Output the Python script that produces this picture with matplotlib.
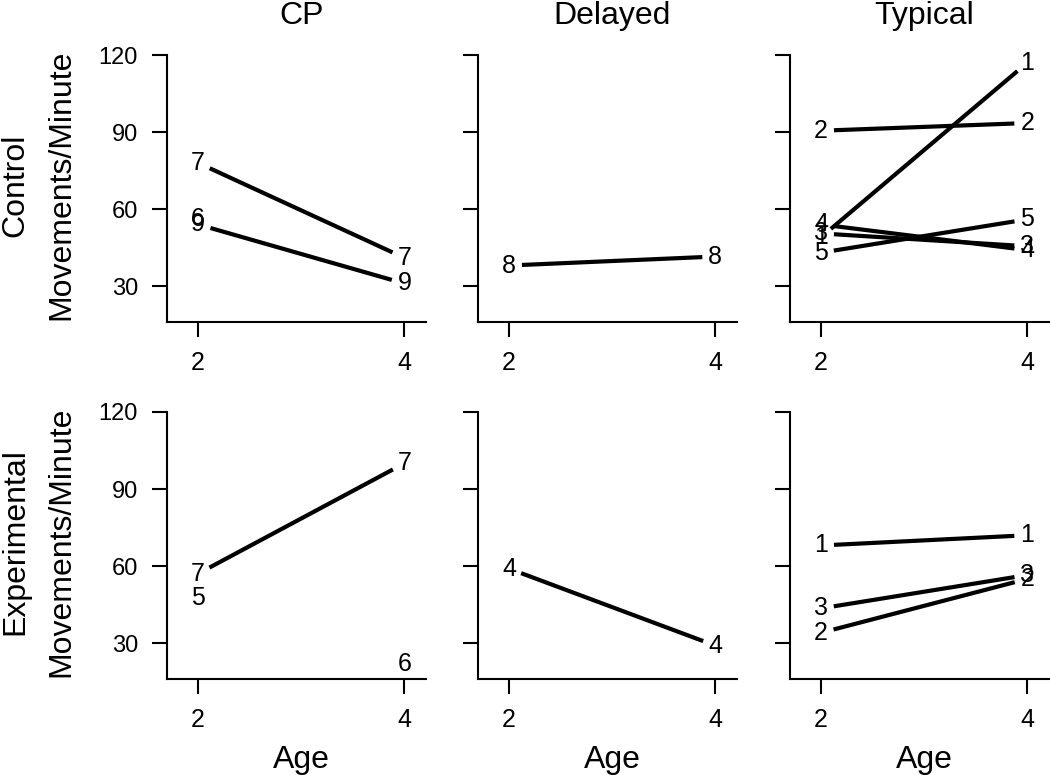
import matplotlib.pyplot as plt
import numpy as np

plt.rcParams['font.family'] = ['Liberation Sans', 'DejaVu Sans']

ages = [2, 4]
columns = ['CP', 'Delayed', 'Typical']
rows = ['Control', 'Experimental']
y_ticks = [30, 60, 90, 120]

# control group: child id, movements/minute at age 2 and at age 4 (None = missing)
cp_ctrl_ids = ['7', '6', '9']
cp_ctrl_age2 = [78, 56, 54]
cp_ctrl_age4 = [41, None, 31]

del_ctrl_ids = ['8']
del_ctrl_age2 = [38]
del_ctrl_age4 = [41.5]

typ_ctrl_ids = ['1', '2', '3', '4', '5']
typ_ctrl_age2 = [49, 90.5, 50.5, 54, 43]
typ_ctrl_age4 = [117, 93.5, 45.5, 44, 56]

# experimental group
cp_exp_ids = ['7', '5', '6']
cp_exp_age2 = [57, 47.5, None]
cp_exp_age4 = [100, None, 22]

del_exp_ids = ['4']
del_exp_age2 = [59]
del_exp_age4 = [29]

typ_exp_ids = ['1', '3', '2']
typ_exp_age2 = [68, 43.5, 34]
typ_exp_age4 = [72, 56.5, 55]

panels = [
    [(cp_ctrl_ids, cp_ctrl_age2, cp_ctrl_age4),
     (del_ctrl_ids, del_ctrl_age2, del_ctrl_age4),
     (typ_ctrl_ids, typ_ctrl_age2, typ_ctrl_age4)],
    [(cp_exp_ids, cp_exp_age2, cp_exp_age4),
     (del_exp_ids, del_exp_age2, del_exp_age4),
     (typ_exp_ids, typ_exp_age2, typ_exp_age4)],
]

W, H = 1050, 775
fig = plt.figure(figsize=(W / 100, H / 100), dpi=100)

lefts = [167, 478, 790]
tops = [55, 412]
pw, ph = 259, 267
gap = 13  # pixels left blank round each label, like R type="b"


def draw_panel(ax, ids, v2, v4):
    for lab, a, b in zip(ids, v2, v4):
        pts = [(x, v) for x, v in zip(ages, [a, b]) if v is not None]
        for x, v in pts:
            ax.text(x, v, lab, ha='center', va='center', fontsize=18)
        if len(pts) == 2:
            p = ax.transData.transform(pts)
            d = p[1] - p[0]
            u = d / np.hypot(d[0], d[1])
            q = np.array([p[0] + u * gap, p[1] - u * gap])
            q = ax.transData.inverted().transform(q)
            ax.plot(q[:, 0], q[:, 1], color='black', lw=3.0, solid_capstyle='butt')


for r in range(2):
    for c in range(3):
        ax = fig.add_axes([lefts[c] / W, 1 - (tops[r] + ph) / H, pw / W, ph / H])
        ax.set_xlim(1.70, 4.21)
        ax.set_ylim(16, 120)
        for s in ['top', 'right']:
            ax.spines[s].set_visible(False)
        for s in ['left', 'bottom']:
            ax.spines[s].set_linewidth(1.5)
        ax.set_xticks(ages)
        ax.set_yticks(y_ticks)
        ax.tick_params(length=11, width=1.5, labelsize=17)
        ax.tick_params(axis='x', labelsize=18, pad=10)
        ax.tick_params(axis='y', pad=10)
        if c > 0:
            ax.set_yticklabels([])
        ids, v2, v4 = panels[r][c]
        draw_panel(ax, ids, v2, v4)
        if r == 0:
            ax.text(3, 1.115, columns[c], transform=ax.get_xaxis_transform(),
                    ha='center', va='baseline', fontsize=23)
        else:
            ax.text(3, -0.333, 'Age', transform=ax.get_xaxis_transform(),
                    ha='center', va='baseline', fontsize=23)

for r in range(2):
    yc = 1 - (tops[r] + 130) / H
    fig.text(15 / W, yc, rows[r], rotation=90, ha='center', va='center', fontsize=23)
    fig.text(61 / W, yc, 'Movements/Minute', rotation=90, ha='center', va='center', fontsize=23)

fig.savefig('out.png', dpi=100)
